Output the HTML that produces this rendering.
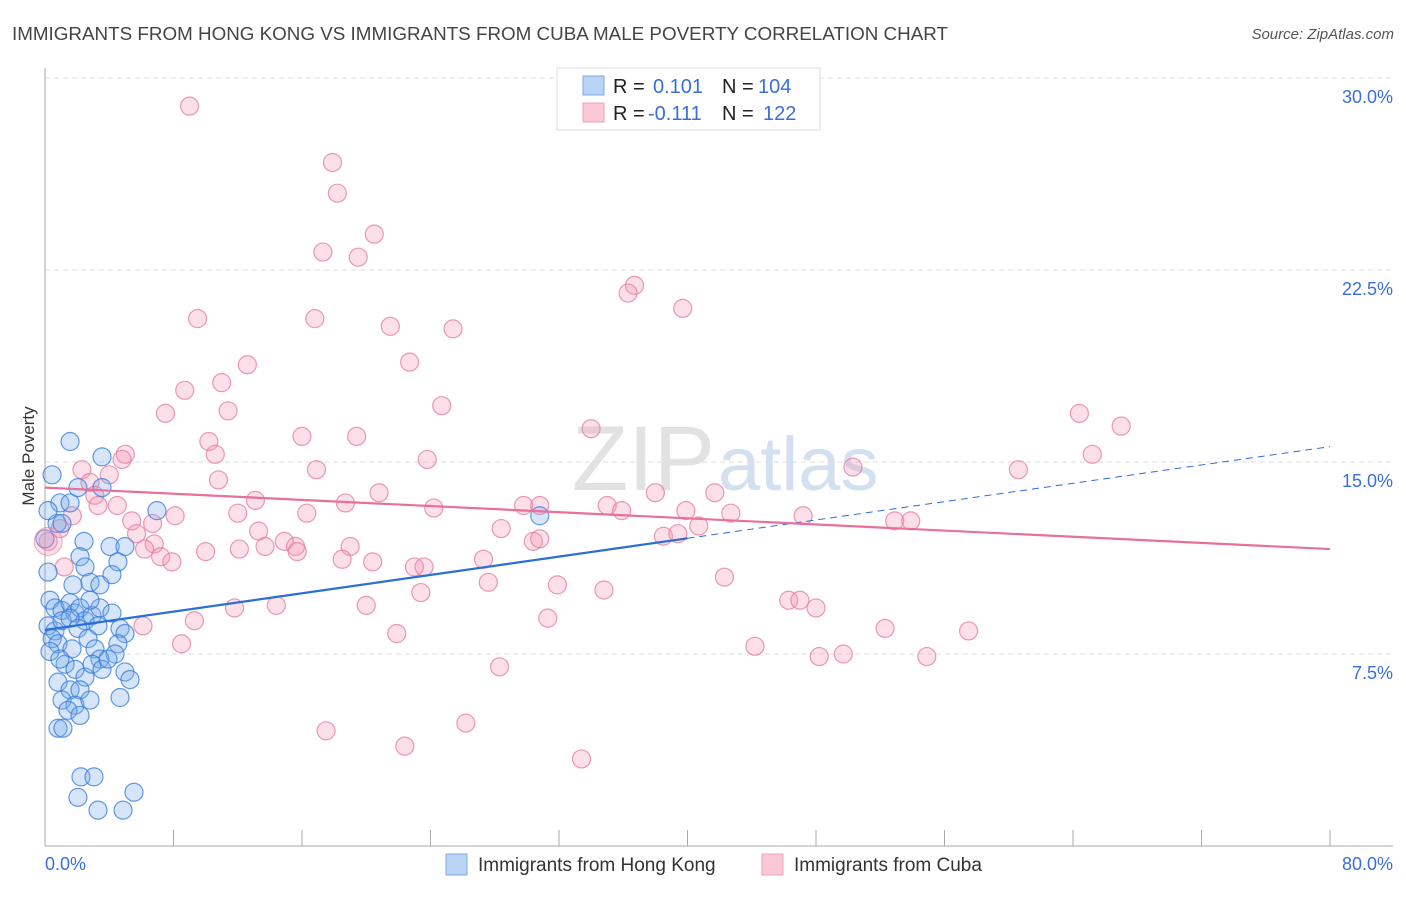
<!DOCTYPE html>
<html><head><meta charset="utf-8">
<style>
body{margin:0;background:#fff;font-family:"Liberation Sans",sans-serif;}
svg text{font-family:"Liberation Sans",sans-serif;}
</style></head>
<body>
<svg id="chart" width="1406" height="892" xmlns="http://www.w3.org/2000/svg">
<text x="12" y="40" font-size="18" fill="#444" textLength="936" lengthAdjust="spacingAndGlyphs">IMMIGRANTS FROM HONG KONG VS IMMIGRANTS FROM CUBA MALE POVERTY CORRELATION CHART</text>
<text x="1394" y="39" font-size="15" fill="#555" text-anchor="end" font-style="italic">Source: ZipAtlas.com</text>
<text x="715" y="490" font-size="92" fill="#e2e2e2" text-anchor="end" font-family="Liberation Serif">ZIP</text>
<text x="718" y="490" font-size="76" fill="#d3e0f1">atlas</text>
<g id="grid"></g>
<g id="axes"></g>
<g id="marks"></g>
<text transform="translate(34,456) rotate(-90)" font-size="17" fill="#333" text-anchor="middle">Male Poverty</text>
<g>
<rect x="557" y="68" width="263" height="62" fill="#fff" stroke="#ddd"/>
<rect x="583" y="76" width="21" height="19" fill="#b9d3f5" stroke="#7fa8e6"/>
<rect x="583" y="103" width="21" height="19" fill="#fbc8d6" stroke="#f0a0b8"/>
<text x="613" y="93" font-size="20" fill="#222">R = </text><text x="653" y="93" font-size="20" fill="#3a6fd8">0.101</text>
<text x="722" y="93" font-size="20" fill="#222">N = </text><text x="758" y="93" font-size="20" fill="#3a6fd8">104</text>
<text x="613" y="120" font-size="20" fill="#222">R = </text><text x="648" y="120" font-size="20" fill="#3a6fd8">-0.111</text>
<text x="722" y="120" font-size="20" fill="#222">N = </text><text x="763" y="120" font-size="20" fill="#3a6fd8">122</text>
</g>
<g>
<rect x="446" y="854" width="21" height="21" fill="#b9d3f5" stroke="#7fa8e6"/>
<text x="478" y="871" font-size="19" fill="#333">Immigrants from Hong Kong</text>
<rect x="762" y="854" width="21" height="21" fill="#fbc8d6" stroke="#f0a0b8"/>
<text x="794" y="871" font-size="19" fill="#333">Immigrants from Cuba</text>
</g>
</svg>
<script>
const yTicks=[7.5,15,22.5,30];
const yTickLabels=["7.5%","15.0%","22.5%","30.0%"];
const xTicks=[0,8,16,24,32,40,48,56,64,72,80];
const xLabels=["0.0%","80.0%"];
const hkX=[0.44,1.56,3.55,0.93,1.56,2.05,3.55,0.75,1.06,0.19,0,2.43,2.18,4.05,4.98,4.54,2.49,4.17,0.19,2.8,1.74,3.42,6.97,30.8,0.31,0.62,1.06,1.56,1.87,2.18,2.49,2.93,3.42,0.19,0.62,1.06,1.56,2.05,2.8,0.44,0.81,0.31,3.3,4.17,4.67,4.98,2.68,3.11,4.54,4.36,3.42,4.98,5.29,1.25,1.87,2.49,2.93,0.81,1.56,2.18,1.06,1.87,2.8,1.43,2.18,4.67,0.81,1.12,2.24,3.05,2.05,5.54,3.3,4.86,3.55,3.92,1.68,0.93];
const hkY=[14.5,15.8,15.2,13.4,13.4,14.0,14.0,12.6,12.6,13.1,12.0,11.9,11.3,11.7,11.7,11.1,10.9,10.6,10.7,10.3,10.2,10.2,13.1,12.9,9.6,9.3,9.2,9.5,9.1,9.3,8.8,9.0,9.3,8.6,8.4,8.8,8.9,8.5,9.6,8.1,7.9,7.6,8.6,9.1,8.5,8.3,8.1,7.7,7.9,7.5,7.3,6.8,6.5,7.1,6.9,6.6,7.1,6.4,6.1,6.1,5.7,5.5,5.7,5.3,5.1,5.8,4.6,4.6,2.7,2.7,1.9,2.1,1.4,1.4,6.9,7.3,7.7,7.3];
const cuX=[9.0,17.9,18.2,20.5,17.3,19.5,36.7,36.3,39.7,9.5,16.8,21.5,25.4,22.7,12.6,11.0,8.7,24.7,11.4,7.5,64.4,67.0,34.0,19.4,16.0,10.2,10.6,5.0,4.8,23.8,65.2,2.3,16.9,50.3,60.6,4.0,10.8,2.8,3.1,20.8,38.0,41.7,13.1,18.7,3.3,4.5,24.2,29.8,30.8,35.0,35.9,39.9,42.7,47.2,12.0,16.3,8.1,1.7,0.93,5.4,6.7,52.9,53.9,40.7,28.4,13.3,5.7,38.5,39.4,30.4,14.9,30.8,0.2,6.8,13.7,15.6,19.0,6.2,10.0,12.1,7.2,7.9,15.7,18.5,20.4,27.3,1.2,23.0,23.6,42.3,27.6,31.9,23.4,34.8,46.3,47.0,48.0,11.8,14.4,20.0,9.3,6.1,31.3,52.3,57.5,21.9,8.5,44.2,49.7,48.2,54.9,28.3,17.5,26.2,22.4,33.4];
const cuY=[28.9,26.7,25.5,23.9,23.2,23.0,21.9,21.6,21.0,20.6,20.6,20.3,20.2,18.9,18.8,18.1,17.8,17.2,17.0,16.9,16.9,16.4,16.3,16.0,16.0,15.8,15.3,15.3,15.1,15.1,15.3,14.7,14.7,14.8,14.7,14.5,14.3,14.2,13.7,13.8,13.8,13.8,13.5,13.4,13.3,13.3,13.2,13.3,13.3,13.3,13.1,13.1,13.0,12.9,13.0,13.0,12.9,12.9,12.4,12.7,12.6,12.7,12.7,12.5,12.4,12.3,12.2,12.1,12.2,11.9,11.9,12.0,11.9,11.8,11.7,11.7,11.7,11.6,11.5,11.6,11.3,11.1,11.5,11.2,11.1,11.2,10.9,10.9,10.9,10.5,10.3,10.2,9.9,10.0,9.6,9.6,9.3,9.3,9.4,9.4,8.8,8.6,8.9,8.5,8.4,8.3,7.9,7.8,7.5,7.4,7.4,7.0,4.5,4.8,3.9,3.4];
const hkTrend=[8.44,15.6];
const cuTrend=[14.0,11.6];
const NS="http://www.w3.org/2000/svg";
const sx=v=>45+v/80*1285;
const sy=v=>846-v/7.5*192;
function mk(tag,attrs,parent){const e=document.createElementNS(NS,tag);for(const k in attrs)e.setAttribute(k,attrs[k]);parent.appendChild(e);return e;}
const grid=document.getElementById('grid'),axes=document.getElementById('axes'),marks=document.getElementById('marks');
yTicks.forEach((t,i)=>{
 const l=mk('line',{x1:45,x2:1393,y1:sy(t),y2:sy(t),stroke:'#ddd','stroke-dasharray':'5,4'},grid);
 
 
 const tx=mk('text',{x:1393,y:sy(t)+25,'font-size':18,fill:'#3a6fd8','text-anchor':'end'},axes);
 tx.textContent=yTickLabels[i];
 
 
});
const ya=mk('line',{x1:45,x2:45,y1:68,y2:846,stroke:'#aaa'},axes);


const xa=mk('line',{x1:45,x2:1393,y1:846,y2:846,stroke:'#aaa'},axes);


xTicks.forEach(t=>{
 const l=mk('line',{x1:sx(t),x2:sx(t),y1:830,y2:846,stroke:'#aaa'},axes);
 
 
});
const xl0=mk('text',{x:45,y:870,'font-size':18,fill:'#3a6fd8'},axes);xl0.textContent=xLabels[0];


const xl1=mk('text',{x:1393,y:870,'font-size':18,fill:'#3a6fd8','text-anchor':'end'},axes);xl1.textContent=xLabels[1];


cuX.forEach((x,i)=>{
 const c=mk('circle',{cx:sx(x),cy:sy(cuY[i]),r:9,fill:'rgba(245,150,180,0.3)',stroke:'rgba(230,120,155,0.75)','stroke-width':1.2},marks);
 
 
});
hkX.forEach((x,i)=>{
 const c=mk('circle',{cx:sx(x),cy:sy(hkY[i]),r:9,fill:'rgba(120,170,235,0.3)',stroke:'rgba(50,120,220,0.75)','stroke-width':1.2},marks);
 
 
});
const big=mk('circle',{cx:sx(0.2),cy:sy(11.9),r:14,fill:'rgba(245,150,180,0.3)',stroke:'rgba(230,120,155,0.6)'},marks);


const hy=x=>hkTrend[0]+(hkTrend[1]-hkTrend[0])*x/80;
const t1=mk('line',{x1:sx(0),y1:sy(hy(0)),x2:sx(40),y2:sy(hy(40)),stroke:'#2a6fd6','stroke-width':2.2},marks);


const t2=mk('line',{x1:sx(40),y1:sy(hy(40)),x2:sx(80),y2:sy(hy(80)),stroke:'#2a6fd6','stroke-width':1,'stroke-dasharray':'7,5'},marks);


const t3=mk('line',{x1:sx(0),y1:sy(cuTrend[0]),x2:sx(80),y2:sy(cuTrend[1]),stroke:'#e8709a','stroke-width':2.2},marks);


</script>
</body></html>
